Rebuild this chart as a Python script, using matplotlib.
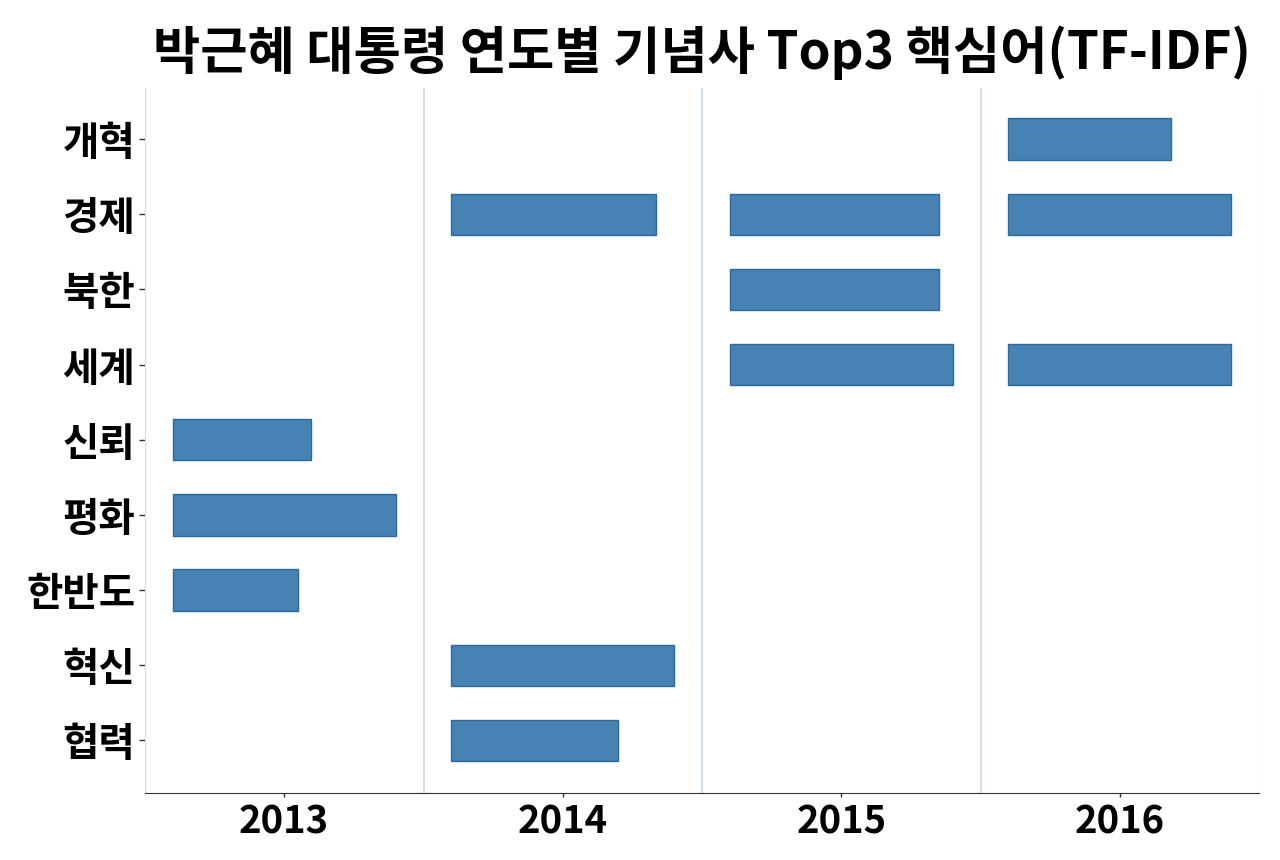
import numpy as np
import matplotlib
matplotlib.use('Agg')
import matplotlib.pyplot as plt

plt.rcParams['font.family'] = ['Noto Sans CJK KR', 'DejaVu Sans']

# 키워드 (위에서 아래 순서)
words = ['개혁', '경제', '북한', '세계', '신뢰', '평화', '한반도', '혁신', '협력']
years = ['2013', '2014', '2015', '2016']

# 연도별 Top3 키워드와 상대 점수 (연도별 최댓값 = 1)
top_words = [
    ['평화', '신뢰', '한반도'],
    ['혁신', '경제', '협력'],
    ['세계', '경제', '북한'],
    ['경제', '세계', '개혁'],
]
top_scores = [
    [1.00, 0.62, 0.56],
    [1.00, 0.92, 0.75],
    [1.00, 0.94, 0.94],
    [1.00, 1.00, 0.73],
]

fig, ax = plt.subplots(figsize=(12.8, 8.6), dpi=100)
fig.subplots_adjust(left=145/1280, right=1259/1280, top=1-88/860, bottom=1-793/860)

ypos = {w: i for i, w in enumerate(words)}
max_w = 0.8
for i, (ws, sc) in enumerate(zip(top_words, top_scores)):
    y = [ypos[w] for w in ws]
    ax.barh(y, np.array(sc) * max_w, left=i - 0.4, height=0.55,
            color='#4682b4', edgecolor='#2b6a9e', linewidth=1, zorder=3)

for xv in [0.5, 1.5, 2.5]:
    ax.axvline(xv, color='#c6dbef', linewidth=1.2, zorder=1)
ax.axvline(3.5, color='#f0f4fa', linewidth=1, zorder=1)

ax.set_xlim(-0.5, 3.5)
ax.set_ylim(len(words) - 1 + 0.7, -0.68)
ax.set_xticks(range(len(years)))
ax.set_xticklabels(years, fontsize=27.5, fontweight='bold')
ax.set_yticks(range(len(words)))
ax.set_yticklabels(words, fontsize=28.5, fontweight='bold')
ax.tick_params(axis='y', length=4, width=1, colors='#333333', labelcolor='black', pad=3)
ax.tick_params(axis='x', length=3, width=1, colors='#333333', labelcolor='black', pad=4)

ax.spines['top'].set_visible(False)
ax.spines['right'].set_visible(False)
ax.spines['left'].set_color('#c6dbef')
ax.spines['bottom'].set_color('#333333')

ax.set_title('박근혜 대통령 연도별 기념사 Top3 핵심어(TF-IDF)', fontsize=37, fontweight='bold', pad=14)

fig.savefig('out.png', dpi=100)
